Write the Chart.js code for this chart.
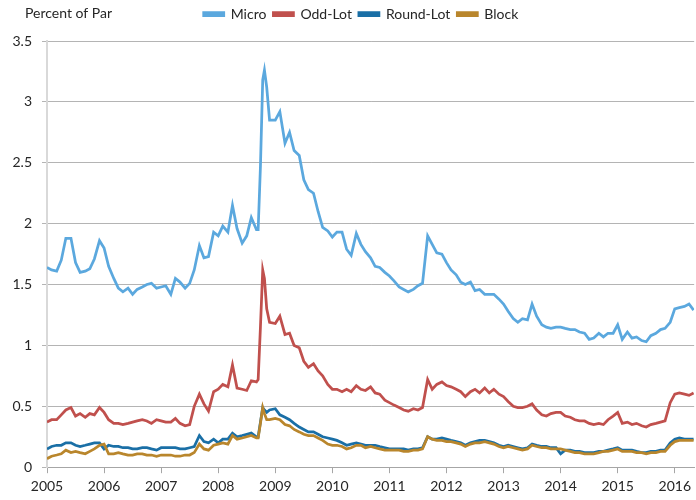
<!DOCTYPE html>
<html>
<head>
<meta charset="utf-8">
<title>Percent of Par</title>
<script src="https://cdn.jsdelivr.net/npm/chart.js@4.4.1/dist/chart.umd.min.js"></script>
<style>
  html, body { margin: 0; padding: 0; background: #fff; }
  #wrap { width: 696px; height: 500px; }
</style>
</head>
<body>
<div id="wrap"><canvas id="chart" width="696" height="500"></canvas></div>
<script>
// decimal years, roughly monthly, a few extra points round the late-2008 spike
const dates = [
  2005.00, 2005.08, 2005.17, 2005.25, 2005.33, 2005.42, 2005.50, 2005.58, 2005.67, 2005.75, 2005.83, 2005.92,
  2006.00, 2006.08, 2006.17, 2006.25, 2006.33, 2006.42, 2006.50, 2006.58, 2006.67, 2006.75, 2006.83, 2006.92,
  2007.00, 2007.08, 2007.17, 2007.25, 2007.33, 2007.42, 2007.50, 2007.58, 2007.67, 2007.75, 2007.83, 2007.92,
  2008.00, 2008.08, 2008.17, 2008.25, 2008.33, 2008.42, 2008.50, 2008.58, 2008.67, 2008.70, 2008.74, 2008.78, 2008.81, 2008.85, 2008.90,
  2009.00, 2009.08, 2009.17, 2009.25, 2009.33, 2009.42, 2009.50, 2009.58, 2009.67, 2009.75, 2009.83, 2009.92,
  2010.00, 2010.08, 2010.17, 2010.25, 2010.33, 2010.42, 2010.50, 2010.58, 2010.67, 2010.75, 2010.83, 2010.92,
  2011.00, 2011.08, 2011.17, 2011.25, 2011.33, 2011.42, 2011.50, 2011.58, 2011.67, 2011.75, 2011.83, 2011.92,
  2012.00, 2012.08, 2012.17, 2012.25, 2012.33, 2012.42, 2012.50, 2012.58, 2012.67, 2012.75, 2012.83, 2012.92,
  2013.00, 2013.08, 2013.17, 2013.25, 2013.33, 2013.42, 2013.50, 2013.58, 2013.67, 2013.75, 2013.83, 2013.92,
  2014.00, 2014.08, 2014.17, 2014.25, 2014.33, 2014.42, 2014.50, 2014.58, 2014.67, 2014.75, 2014.83, 2014.92,
  2015.00, 2015.08, 2015.17, 2015.25, 2015.33, 2015.42, 2015.50, 2015.58, 2015.67, 2015.75, 2015.83, 2015.92,
  2016.00, 2016.08, 2016.17, 2016.25, 2016.33
];

const micro = [
  1.64, 1.62, 1.61, 1.70, 1.88, 1.88, 1.68, 1.60, 1.61, 1.63, 1.71, 1.86,
  1.80, 1.65, 1.55, 1.47, 1.44, 1.47, 1.42, 1.46, 1.48, 1.50, 1.51, 1.47,
  1.48, 1.49, 1.42, 1.55, 1.52, 1.47, 1.51, 1.62, 1.82, 1.72, 1.73, 1.93,
  1.90, 1.98, 1.93, 2.15, 1.96, 1.84, 1.90, 2.05, 1.95, 1.95, 2.47, 3.18, 3.26, 3.12, 2.85,
  2.85, 2.92, 2.66, 2.75, 2.60, 2.56, 2.36, 2.28, 2.25, 2.10, 1.97, 1.94,
  1.89, 1.93, 1.93, 1.79, 1.74, 1.92, 1.83, 1.77, 1.72, 1.65, 1.64, 1.60,
  1.57, 1.53, 1.48, 1.46, 1.44, 1.46, 1.49, 1.51, 1.90, 1.83, 1.76, 1.75,
  1.68, 1.62, 1.58, 1.52, 1.50, 1.52, 1.45, 1.46, 1.42, 1.42, 1.42, 1.38,
  1.34, 1.28, 1.22, 1.19, 1.22, 1.21, 1.34, 1.24, 1.17, 1.15, 1.14, 1.15,
  1.15, 1.14, 1.13, 1.13, 1.11, 1.10, 1.05, 1.06, 1.10, 1.07, 1.10, 1.10,
  1.17, 1.05, 1.11, 1.06, 1.07, 1.04, 1.03, 1.08, 1.10, 1.13, 1.14, 1.19,
  1.30, 1.31, 1.32, 1.34, 1.29
];

const oddLot = [
  0.37, 0.39, 0.39, 0.43, 0.47, 0.49, 0.42, 0.44, 0.41, 0.44, 0.43, 0.49,
  0.45, 0.39, 0.36, 0.36, 0.35, 0.36, 0.37, 0.38, 0.39, 0.38, 0.36, 0.39,
  0.38, 0.37, 0.37, 0.40, 0.36, 0.34, 0.35, 0.50, 0.60, 0.52, 0.46, 0.62,
  0.64, 0.68, 0.66, 0.84, 0.65, 0.64, 0.63, 0.71, 0.70, 0.72, 1.15, 1.62, 1.55, 1.30, 1.19,
  1.18, 1.24, 1.09, 1.10, 1.00, 0.98, 0.87, 0.82, 0.85, 0.79, 0.75, 0.68,
  0.64, 0.64, 0.62, 0.64, 0.62, 0.67, 0.64, 0.63, 0.66, 0.61, 0.60, 0.55,
  0.53, 0.51, 0.49, 0.47, 0.46, 0.48, 0.47, 0.49, 0.72, 0.64, 0.68, 0.70,
  0.67, 0.66, 0.64, 0.62, 0.58, 0.62, 0.64, 0.61, 0.65, 0.61, 0.64, 0.60,
  0.58, 0.54, 0.50, 0.49, 0.49, 0.50, 0.52, 0.47, 0.43, 0.42, 0.44, 0.45,
  0.45, 0.42, 0.41, 0.39, 0.38, 0.38, 0.36, 0.35, 0.36, 0.35, 0.39, 0.42,
  0.45, 0.36, 0.37, 0.35, 0.36, 0.34, 0.33, 0.35, 0.36, 0.37, 0.38, 0.53,
  0.60, 0.61, 0.60, 0.59, 0.61
];

const roundLot = [
  0.15, 0.17, 0.18, 0.18, 0.20, 0.20, 0.18, 0.17, 0.18, 0.19, 0.20, 0.20,
  0.15, 0.18, 0.17, 0.17, 0.16, 0.16, 0.15, 0.15, 0.16, 0.16, 0.15, 0.14,
  0.16, 0.16, 0.16, 0.16, 0.15, 0.15, 0.16, 0.17, 0.26, 0.21, 0.20, 0.23,
  0.20, 0.23, 0.23, 0.28, 0.25, 0.26, 0.27, 0.28, 0.25, 0.25, 0.37, 0.49, 0.47, 0.45, 0.47,
  0.48, 0.43, 0.41, 0.39, 0.36, 0.33, 0.31, 0.29, 0.29, 0.27, 0.25, 0.24,
  0.23, 0.22, 0.20, 0.18, 0.19, 0.20, 0.19, 0.18, 0.18, 0.18, 0.17, 0.16,
  0.15, 0.15, 0.15, 0.15, 0.14, 0.15, 0.15, 0.16, 0.25, 0.23, 0.23, 0.24,
  0.23, 0.22, 0.21, 0.20, 0.18, 0.20, 0.21, 0.22, 0.22, 0.21, 0.20, 0.18,
  0.17, 0.18, 0.17, 0.16, 0.15, 0.16, 0.19, 0.18, 0.17, 0.17, 0.16, 0.16,
  0.11, 0.14, 0.14, 0.13, 0.13, 0.12, 0.12, 0.12, 0.13, 0.13, 0.14, 0.15,
  0.16, 0.14, 0.14, 0.14, 0.13, 0.12, 0.12, 0.13, 0.13, 0.14, 0.14, 0.20,
  0.23, 0.24, 0.23, 0.23, 0.23
];

const block = [
  0.07, 0.09, 0.10, 0.11, 0.14, 0.12, 0.13, 0.12, 0.11, 0.13, 0.15, 0.18,
  0.19, 0.11, 0.11, 0.12, 0.11, 0.10, 0.10, 0.11, 0.11, 0.10, 0.10, 0.09,
  0.10, 0.10, 0.10, 0.09, 0.09, 0.10, 0.10, 0.12, 0.19, 0.15, 0.14, 0.18,
  0.19, 0.20, 0.19, 0.26, 0.23, 0.24, 0.25, 0.26, 0.24, 0.24, 0.36, 0.49, 0.44, 0.39, 0.39,
  0.40, 0.39, 0.35, 0.34, 0.31, 0.29, 0.27, 0.26, 0.26, 0.24, 0.22, 0.19,
  0.18, 0.18, 0.17, 0.15, 0.16, 0.18, 0.18, 0.16, 0.17, 0.16, 0.15, 0.14,
  0.14, 0.14, 0.14, 0.13, 0.13, 0.14, 0.14, 0.15, 0.25, 0.23, 0.22, 0.22,
  0.21, 0.21, 0.20, 0.19, 0.17, 0.19, 0.20, 0.20, 0.21, 0.20, 0.19, 0.17,
  0.16, 0.17, 0.16, 0.15, 0.14, 0.15, 0.18, 0.17, 0.16, 0.16, 0.15, 0.15,
  0.15, 0.14, 0.13, 0.12, 0.12, 0.11, 0.11, 0.11, 0.12, 0.13, 0.13, 0.14,
  0.15, 0.13, 0.13, 0.13, 0.12, 0.12, 0.11, 0.12, 0.12, 0.13, 0.13, 0.18,
  0.21, 0.22, 0.22, 0.22, 0.22
];

const seriesNames = ["Micro", "Odd-Lot", "Round-Lot", "Block"];
const seriesColors = ["#5ba8de", "#c0504d", "#1a6fa6", "#b9862c"];
const yearTicks = [2005, 2006, 2007, 2008, 2009, 2010, 2011, 2012, 2013, 2014, 2015, 2016];
const yTitle = "Percent of Par";

const FONT = "Lato";
const TEXT = "#262626";

function points(values) {
  return values.map((v, i) => ({ x: dates[i], y: v }));
}

const allSeries = [micro, oddLot, roundLot, block];
const datasets = allSeries.map((vals, i) => ({
  label: seriesNames[i],
  data: points(vals),
  borderColor: seriesColors[i],
  backgroundColor: seriesColors[i],
  borderWidth: 2.75,
  pointRadius: 0,
  tension: 0,
  order: allSeries.length - i   // later series drawn on top, like the original
}));

// legend: a bit more room under it, and nudged right of centre
const legendTweak = {
  id: "legendTweak",
  beforeInit(chart) {
    const fit = chart.legend.fit;
    chart.legend.fit = function () {
      fit.call(this);
      this.height += 10;
    };
  },
  afterLayout(chart) {
    chart.legend.left += 13;
    chart.legend.right += 13;
  }
};

// the unit label sits top-left, on the legend row
const unitLabel = {
  id: "unitLabel",
  afterDraw(chart) {
    const ctx = chart.ctx;
    ctx.save();
    ctx.font = "14px " + FONT;
    ctx.fillStyle = TEXT;
    ctx.textAlign = "left";
    ctx.textBaseline = "middle";
    ctx.fillText(yTitle, 25, 13);
    ctx.restore();
  }
};

new Chart(document.getElementById("chart"), {
  type: "line",
  data: { datasets: datasets },
  plugins: [legendTweak, unitLabel],
  options: {
    responsive: false,
    animation: false,
    layout: { padding: 0 },
    plugins: {
      tooltip: { enabled: false },
      legend: {
        position: "top",
        labels: {
          boxWidth: 20,
          boxHeight: 3,
          padding: 7,
          color: TEXT,
          font: { family: FONT, size: 14 },
          sort: (a, b) => a.datasetIndex - b.datasetIndex
        }
      }
    },
    scales: {
      x: {
        type: "linear",
        min: 2005,
        max: 2016.34,
        afterBuildTicks(scale) {
          scale.ticks = yearTicks.map(v => ({ value: v }));
        },
        ticks: {
          color: TEXT,
          font: { family: FONT, size: 14 },
          padding: 5,
          maxRotation: 0,
          autoSkip: false,
          callback: v => String(v)
        },
        grid: {
          drawOnChartArea: false,
          drawTicks: true,
          tickLength: 6,
          color: "#a6a6a6"
        },
        border: { display: true, color: "#a6a6a6", width: 1 }
      },
      y: {
        min: 0,
        max: 3.5,
        afterFit(scale) { scale.width = 47; },
        ticks: {
          stepSize: 0.5,
          color: TEXT,
          font: { family: FONT, size: 14 },
          padding: 10,
          callback: v => String(v)
        },
        grid: {
          color: "#b4b4b4",
          tickLength: 5,
          lineWidth: 1
        },
        border: { display: true, color: "#d9d9d9", width: 2 }
      }
    }
  }
});
</script>
</body>
</html>
